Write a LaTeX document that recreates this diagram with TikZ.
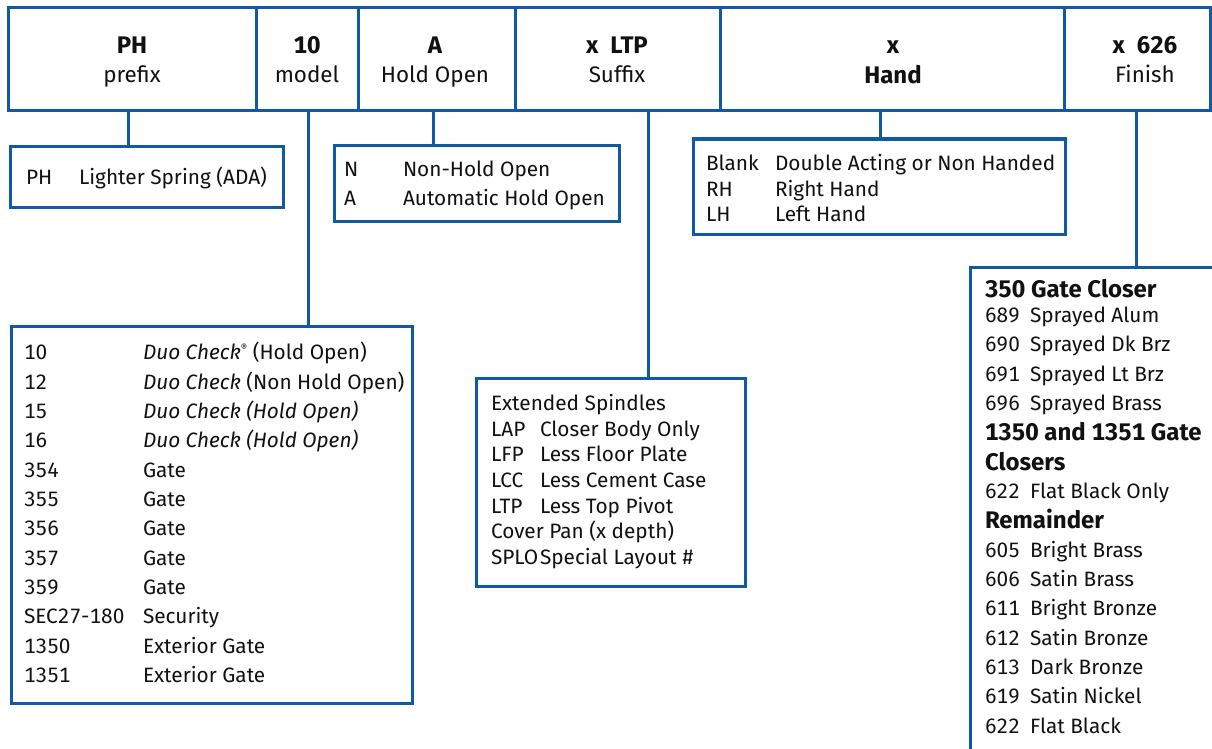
\documentclass[tikz,border=0pt]{standalone}
\usepackage{fontspec}
\setmainfont[Numbers={Lining,Monospaced}]{Fira Sans}
\definecolor{lineblue}{HTML}{0F5AA3}
\definecolor{inktext}{HTML}{111111}
\newcounter{txn}
\newcommand{\bigb}[1]{{\fontsize{24}{26}\selectfont\bfseries #1}}
\tikzset{
  box/.style={draw=lineblue,line width=3pt,fill=white,anchor=north west,inner sep=0pt,outer sep=0pt},
  ghost/.style={anchor=north west,inner sep=0pt,outer sep=0pt},
  link/.style={draw=lineblue,line width=3pt},
  lab/.style={anchor=base west,inner sep=0pt,outer sep=0pt,yshift=-0.7pt,text=inktext,font=\fontsize{20.8}{23}\selectfont},
  head/.style={anchor=base,inner sep=0pt,outer sep=0pt,text=inktext,font=\fontsize{22.4}{24}\selectfont},
}
\newcommand{\tx}[3]{\stepcounter{txn}\node[lab] (t\arabic{txn}) at (#1,#2) {#3};}
\newcommand{\hd}[3]{\stepcounter{txn}\node[head] (t\arabic{txn}) at (#1,#2) {#3};}
\newcommand{\bx}[5]{\node[box,minimum width=#4pt,minimum height=#5pt] (#1) at (#2,#3) {};}
\begin{document}
\begin{tikzpicture}[x=1pt,y=-1pt]
\useasboundingbox (0,0) rectangle (1212,749);
% header cells
\bx{cPrefix}{8.5}{8}{248}{103}
\bx{cModel}{256.5}{8}{102}{103}
\bx{cHold}{358.5}{8}{157}{103}
\bx{cSuffix}{515.5}{8}{205}{103}
\bx{cHand}{720.5}{8}{344}{103}
\bx{cFinish}{1064.5}{8}{146}{103}
% option boxes
\bx{bPrefix}{10}{146}{273}{61}
\bx{bModel}{11}{326}{401}{377}
\bx{bHold}{334}{145}{285}{76}
\bx{bSuffix}{476}{378}{269}{208}
\bx{bHand}{693}{139}{372}{95}
\node[ghost,minimum width=242pt,minimum height=482pt] (bFinish) at (970,267) {};
\draw[link] (bFinish.north east) -- (bFinish.north west) -- (bFinish.south west);
% connectors
\coordinate (jPrefix) at (128,111);
\coordinate (jModel) at (308,111);
\coordinate (jHold) at (433,111);
\coordinate (jSuffix) at (648,111);
\coordinate (jHand) at (880,111);
\coordinate (jFinish) at (1136,111);
\draw[link] (jPrefix) -- (jPrefix |- bPrefix.north);
\draw[link] (jModel) -- (jModel |- bModel.north);
\draw[link] (jHold) -- (jHold |- bHold.north);
\draw[link] (jSuffix) -- (jSuffix |- bSuffix.north);
\draw[link] (jHand) -- (jHand |- bHand.north);
\draw[link] (jFinish) -- (jFinish |- bFinish.north);
% header text
\hd{132}{53.5}{\bigb{PH}}\hd{132}{82.5}{prefix}
\hd{307}{53.5}{\bigb{10}}\hd{307}{82.5}{model}
\hd{435}{53.5}{\bigb{A}}\hd{435}{82.5}{Hold Open}
\hd{617}{53.5}{\bigb{x\enspace LTP}}\hd{617}{82.5}{Suffix}
\hd{893}{53.5}{\bigb{x}}\hd{893}{83.5}{\bigb{Hand}}
\hd{1145}{53.5}{\bigb{x\enspace 626}}\hd{1145}{82.5}{Finish}
% prefix
\tx{26}{184}{PH}\tx{79}{184}{Lighter Spring (ADA)}
% hold
\tx{344}{176}{N}\tx{403}{176}{Non-Hold Open}
\tx{344}{205}{A}\tx{403}{205}{Automatic Hold Open}
% hand
\tx{706}{170}{Blank}\tx{775}{170}{Double Acting or Non Handed}
\tx{706}{196}{RH}\tx{775}{196}{Right Hand}
\tx{706}{221}{LH}\tx{775}{221}{Left Hand}
% model
\tx{24}{359}{10}\tx{143}{359}{\textit{Duo Check}\raisebox{.4em}{\fontsize{10}{10}\selectfont ®} (Hold Open)}
\tx{24}{389}{12}\tx{143}{389}{\textit{Duo Check} (Non Hold Open)}
\tx{24}{418}{15}\tx{143}{418}{\textit{Duo Check (Hold Open)}}
\tx{24}{447}{16}\tx{143}{447}{\textit{Duo Check (Hold Open)}}
\tx{24}{477}{354}\tx{143}{477}{Gate}
\tx{24}{506}{355}\tx{143}{506}{Gate}
\tx{24}{535}{356}\tx{143}{535}{Gate}
\tx{24}{565}{357}\tx{143}{565}{Gate}
\tx{24}{594}{359}\tx{143}{594}{Gate}
\tx{24}{623}{SEC27-180}\tx{143}{623}{Security}
\tx{24}{653}{1350}\tx{143}{653}{Exterior Gate}
\tx{24}{682}{1351}\tx{143}{682}{Exterior Gate}
% suffix
\tx{491}{410}{Extended Spindles}
\tx{491}{436}{LAP}\tx{540}{436}{Closer Body Only}
\tx{491}{461}{LFP}\tx{540}{461}{Less Floor Plate}
\tx{491}{487}{LCC}\tx{540}{487}{Less Cement Case}
\tx{491}{513}{LTP}\tx{540}{513}{Less Top Pivot}
\tx{491}{538}{Cover Pan (x depth)}
\tx{491}{564}{SPLO}\tx{540}{564}{Special Layout \#}
% finish
\tx{985}{297}{\bigb{350 Gate Closer}}
\tx{985}{322}{689}\tx{1030}{322}{Sprayed Alum}
\tx{985}{351}{690}\tx{1030}{351}{Sprayed Dk Brz}
\tx{985}{381}{691}\tx{1030}{381}{Sprayed Lt Brz}
\tx{985}{410}{696}\tx{1030}{410}{Sprayed Brass}
\tx{985}{440}{\bigb{1350 and 1351 Gate}}
\tx{985}{470}{\bigb{Closers}}
\tx{985}{498}{622}\tx{1030}{498}{Flat Black Only}
\tx{985}{528}{\bigb{Remainder}}
\tx{985}{557}{605}\tx{1030}{557}{Bright Brass}
\tx{985}{586}{606}\tx{1030}{586}{Satin Brass}
\tx{985}{615}{611}\tx{1030}{615}{Bright Bronze}
\tx{985}{645}{612}\tx{1030}{645}{Satin Bronze}
\tx{985}{674}{613}\tx{1030}{674}{Dark Bronze}
\tx{985}{703}{619}\tx{1030}{703}{Satin Nickel}
\tx{985}{733}{622}\tx{1030}{733}{Flat Black}
\end{tikzpicture}
\end{document}
